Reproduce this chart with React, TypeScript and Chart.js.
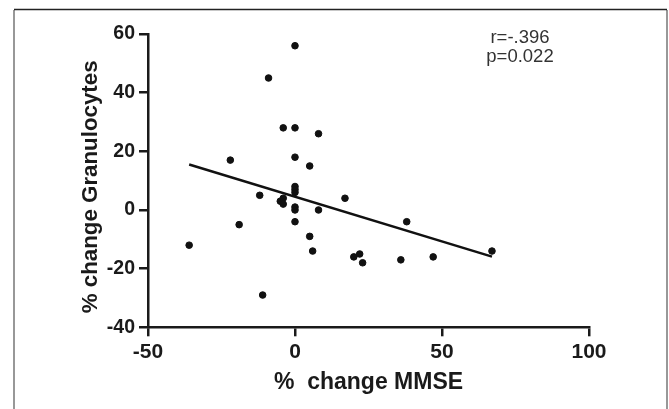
import React, { useEffect, useRef } from "react";
import { Chart, registerables } from "chart.js";

Chart.register(...registerables);

// % change MMSE (x) and % change Granulocytes (y) for each subject
const mmseChange = [0, -9, -4, 0, 8, -22, 0, 5, -12, -5, -4, -4, 0, 0, 0, 0, 0, 0, 8, 17, -19, -36, 5, 6, -11, 20, 22, 23, 36, 38, 47, 67];
const granChange = [56, 45, 28, 28, 26, 17, 18, 15, 5, 3, 4, 2, 8, 7, 6, 1, 0, -4, 0, 4, -5, -12, -9, -14, -29, -16, -15, -18, -17, -4, -16, -14];

// regression line end points
const fitX = [-36, 67];
const fitY = [15.5, -15.9];

const xTicks = [-50, 0, 50, 100];
const yTicks = [-40, -20, 0, 20, 40, 60];

const statLines = ["r=-.396", "p=0.022"];
const xTitle = "%  change MMSE";
const yTitle = "% change Granulocytes  ";

const FONT = "'Liberation Sans', Arial, Helvetica, sans-serif";

const framePlugin = {
  id: "frame",
  beforeDraw(chart: any) {
    const { ctx, width, height } = chart;
    ctx.save();
    ctx.fillStyle = "#ffffff";
    ctx.fillRect(0, 0, width, height);
    ctx.lineWidth = 1.5;
    ctx.strokeStyle = "#777";
    ctx.beginPath();
    ctx.moveTo(14, 10);
    ctx.lineTo(14, height);
    ctx.moveTo(667, 10);
    ctx.lineTo(667, height);
    ctx.stroke();
    ctx.strokeStyle = "#222";
    ctx.beginPath();
    ctx.moveTo(14, 9.5);
    ctx.lineTo(667, 9.5);
    ctx.stroke();
    ctx.restore();
  },
  afterDraw(chart: any) {
    const { ctx } = chart;
    ctx.save();
    ctx.fillStyle = "#333";
    ctx.font = `18.5px ${FONT}`;
    ctx.textAlign = "center";
    ctx.textBaseline = "middle";
    statLines.forEach((t, i) => ctx.fillText(t, 520, 38 + i * 19));
    ctx.restore();
  },
};

export default function App() {
  const ref = useRef<HTMLCanvasElement>(null);
  useEffect(() => {
    if (!ref.current) return;
    const chart = new Chart(ref.current, {
      type: "scatter",
      data: {
        datasets: [
          {
            type: "scatter",
            data: mmseChange.map((x, i) => ({ x, y: granChange[i] })),
            backgroundColor: "#111",
            borderColor: "#111",
            pointRadius: 3.3,
            pointHoverRadius: 3.3,
          },
          {
            type: "line",
            data: fitX.map((x, i) => ({ x, y: fitY[i] })),
            borderColor: "#111",
            borderWidth: 2.5,
            pointRadius: 0,
            fill: false,
          } as any,
        ],
      },
      options: {
        animation: false,
        responsive: false,
        events: [],
        layout: { padding: { left: 0, top: 34, right: 80, bottom: 0 } },
        plugins: { legend: { display: false }, tooltip: { enabled: false } },
        scales: {
          x: {
            type: "linear",
            min: -50,
            max: 100,
            afterBuildTicks: (s: any) => { s.ticks = xTicks.map((v) => ({ value: v })); },
            afterFit: (s: any) => { s.height = 409 - 327.3; },
            border: { display: true, color: "#1a1a1a", width: 2.5 },
            grid: { display: true, drawOnChartArea: false, drawTicks: true, tickLength: 9, color: "#1a1a1a", lineWidth: 2.5 },
            ticks: { color: "#1a1a1a", padding: 3, font: { family: FONT, size: 21, weight: "bold" } },
            title: { display: true, text: xTitle, color: "#1a1a1a", padding: { top: 0, bottom: 12.7 }, font: { family: FONT, size: 23, weight: "bold" } },
          },
          y: {
            type: "linear",
            min: -40,
            max: 60,
            afterBuildTicks: (s: any) => { s.ticks = yTicks.map((v) => ({ value: v })); },
            afterFit: (s: any) => { s.width = 148; },
            border: { display: true, color: "#1a1a1a", width: 2.5 },
            grid: { display: true, drawOnChartArea: false, drawTicks: true, tickLength: 9, color: "#1a1a1a", lineWidth: 2.5 },
            ticks: { color: "#1a1a1a", padding: 4, font: { family: FONT, size: 19.5, weight: "bold" } },
            title: { display: true, text: yTitle, color: "#1a1a1a", padding: { top: 77, bottom: 0 }, font: { family: FONT, size: 22.3, weight: "bold" } },
          },
        },
      },
      plugins: [framePlugin],
    } as any);
    return () => chart.destroy();
  }, []);
  return (
    <div style={{ position: "fixed", left: 0, top: 0, width: 669, height: 409, background: "#fff" }}>
      <canvas ref={ref} width={669} height={409} style={{ display: "block", width: 669, height: 409 }} />
    </div>
  );
}
